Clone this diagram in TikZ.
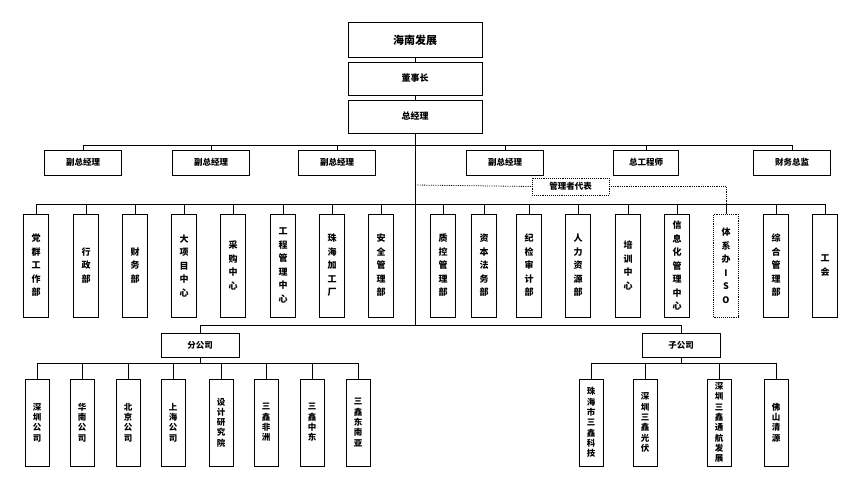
\documentclass[tikz,border=0pt]{standalone}
\usepackage{fontspec}
\setmainfont{Noto Sans CJK SC}
\usetikzlibrary{positioning}
\begin{document}
\begin{tikzpicture}[x=1pt,y=-1pt]
\tikzstyle{top} = [rectangle, draw, line width=0.9pt, minimum width=134pt, inner sep=0pt, font=\bfseries\fontsize{9}{10}\selectfont]
\tikzstyle{mid} = [rectangle, draw, line width=0.9pt, minimum width=77pt, minimum height=25pt, inner sep=0pt, font=\bfseries\fontsize{8.5}{10}\selectfont]
\tikzstyle{vbox} = [rectangle, draw, line width=0.9pt, minimum width=25pt, minimum height=103pt, inner sep=0pt, text width=10pt, align=center, font=\bfseries\fontsize{9}{13.5}\selectfont]
\tikzstyle{sbox} = [vbox, minimum width=24pt, minimum height=87pt, font=\bfseries\fontsize{8.5}{10.3}\selectfont]
\tikzstyle{dot} = [densely dotted, line width=0.8pt]
\tikzstyle{line} = [draw, line width=0.8pt]
\useasboundingbox (0,0) rectangle (860,491);
% top
\node [top, minimum height=35pt, font=\bfseries\fontsize{11}{12}\selectfont] (hn) at (415,40) {海南发展};
\node [top, minimum height=33pt] (dsz) at (415,78.5) {董事长};
\node [top, minimum height=33pt] (zjl) at (415,116.5) {总经理};
% deputies
\node [mid] (vp1) at (83,162.5) {副总经理};
\node [mid] (vp2) at (211,162.5) {副总经理};
\node [mid] (vp3) at (337,162.5) {副总经理};
\node [mid] (vp4) at (505,162.5) {副总经理};
\node [mid, minimum width=65pt] (zgc) at (646,162.5) {总工程师};
\node [mid] (cwzj) at (792,162.5) {财务总监};
\node [mid, dot, minimum width=77pt, minimum height=17pt] (rep) at (570.5,186.5) {管理者代表};
% departments
\node [vbox] (d1) at (36,265.5) {党\\群\\工\\作\\部};
\node [vbox] (d2) at (86,265.5) {行\\政\\部};
\node [vbox] (d3) at (135,265.5) {财\\务\\部};
\node [vbox] (d4) at (184,265.5) {大\\项\\目\\中\\心};
\node [vbox] (d5) at (233,265.5) {采\\购\\中\\心};
\node [vbox] (d6) at (283,265.5) {工\\程\\管\\理\\中\\心};
\node [vbox] (d7) at (332,265.5) {珠\\海\\加\\工\\厂};
\node [vbox] (d8) at (381,265.5) {安\\全\\管\\理\\部};
\node [vbox] (d9) at (443,265.5) {质\\控\\管\\理\\部};
\node [vbox] (d10) at (484,265.5) {资\\本\\法\\务\\部};
\node [vbox] (d11) at (529,265.5) {纪\\检\\审\\计\\部};
\node [vbox] (d12) at (578,265.5) {人\\力\\资\\源\\部};
\node [vbox] (d13) at (628,265.5) {培\\训\\中\\心};
\node [vbox] (d14) at (677,265.5) {信\\息\\化\\管\\理\\中\\心};
\node [vbox, dot] (iso) at (726,265.5) {体\\系\\办\\I\\S\\O};
\node [vbox] (d16) at (776,265.5) {综\\合\\管\\理\\部};
\node [vbox] (d17) at (825,265.5) {工\\会};
% branches
\node [mid, minimum width=78pt, minimum height=24pt] (fgs) at (200,345) {分公司};
\node [mid, minimum width=78pt, minimum height=24pt] (zgs) at (681,345) {子公司};
\node [sbox] (b1) at (37,422.5) {深\\圳\\公\\司};
\node [sbox] (b2) at (82,422.5) {华\\南\\公\\司};
\node [sbox] (b3) at (128,422.5) {北\\京\\公\\司};
\node [sbox] (b4) at (173,422.5) {上\\海\\公\\司};
\node [sbox] (b5) at (221,422.5) {设\\计\\研\\究\\院};
\node [sbox] (b6) at (266,422.5) {三\\鑫\\非\\洲};
\node [sbox] (b7) at (312,422.5) {三\\鑫\\中\\东};
\node [sbox] (b8) at (358,422.5) {三\\鑫\\东\\南\\亚};
\node [sbox] (s1) at (591,422.5) {珠\\海\\市\\三\\鑫\\科\\技};
\node [sbox] (s2) at (645,422.5) {深\\圳\\三\\鑫\\光\\伏};
\node [sbox] (s3) at (719,422.5) {深\\圳\\三\\鑫\\通\\航\\发\\展};
\node [sbox] (s4) at (776,422.5) {佛\\山\\清\\源};
% buses
\coordinate (busa) at (415,145);
\coordinate (busb) at (415,204);
\coordinate (busc) at (415,325);
\coordinate (busd) at (200,363);
\coordinate (buse) at (681,363);
\coordinate (dots) at (415,185);
\tikzstyle{every path}=[line]
\path (hn) -- (dsz);
\path (dsz) -- (zjl);
\path (zjl) -- (busc);
\foreach \n in {vp1,vp2,vp3,vp4,zgc,cwzj} \path (\n.north) |- (busa);
\foreach \n in {d1,d2,d3,d4,d5,d6,d7,d8,d9,d10,d11,d12,d13,d14,iso,d16,d17} \path (\n.north) |- (busb);
\foreach \n in {fgs,zgs} \path (\n.north) |- (busc);
\path (fgs) -- (busd);
\foreach \n in {b1,b2,b3,b4,b5,b6,b7,b8} \path (\n.north) |- (busd);
\path (zgs) -- (buse);
\foreach \n in {s1,s2,s3,s4} \path (\n.north) |- (buse);
\path [dot] (dots) -- (rep.west);
\path [dot] (rep.east) -| (iso.north);
\end{tikzpicture}
\end{document}
